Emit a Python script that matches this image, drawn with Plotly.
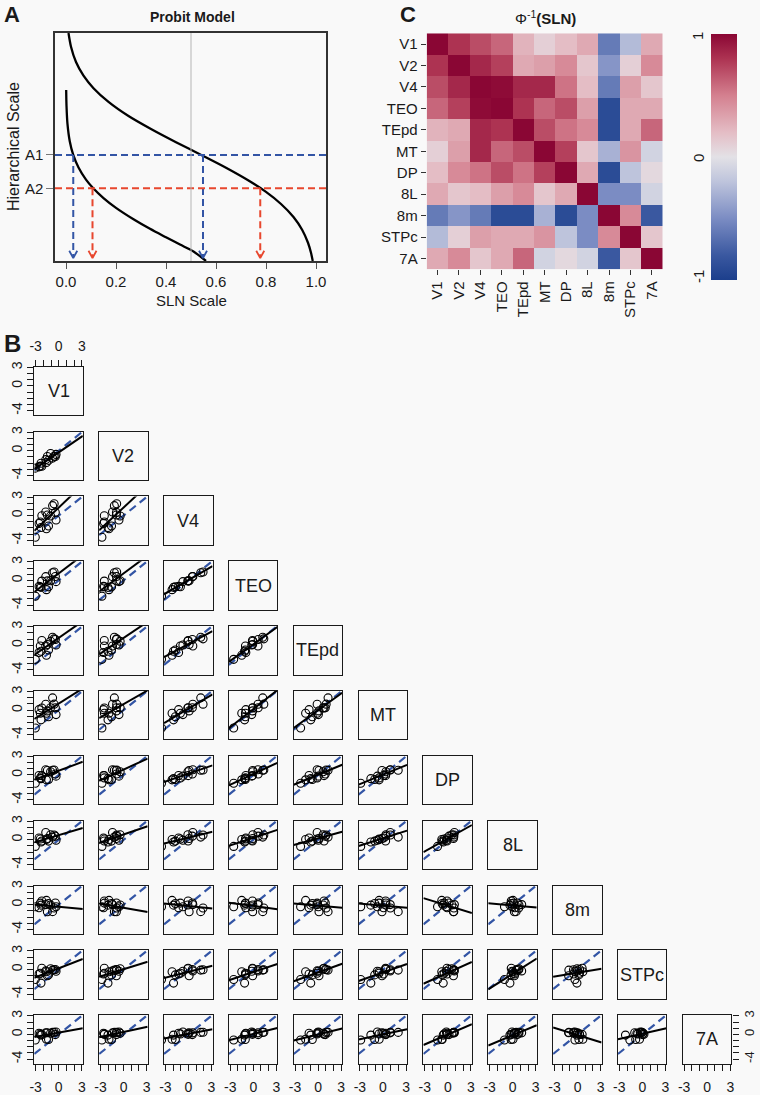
import numpy as np
import plotly.graph_objects as go

# ================= DATA =================
# ---- Panel A: probit model schematic ----
upper_sln = [0.010, 0.020, 0.040, 0.070, 0.110, 0.170, 0.250, 0.340, 0.440, 0.541,
             0.640, 0.730, 0.800, 0.860, 0.910, 0.945, 0.968, 0.980, 0.987]
upper_h = [10.0, 9.40, 8.73, 8.13, 7.58, 6.98, 6.36, 5.79, 5.21, 4.65,
           4.09, 3.53, 3.03, 2.50, 1.93, 1.36, 0.80, 0.36, 0.0]
lower_sln = [0.0007, 0.002, 0.006, 0.015, 0.029, 0.050, 0.080, 0.109, 0.150, 0.200,
             0.270, 0.336, 0.400, 0.456, 0.510, 0.560]
lower_h = [7.50, 6.81, 6.00, 5.25, 4.65, 4.10, 3.57, 3.19, 2.76, 2.33,
           1.83, 1.41, 1.04, 0.72, 0.42, 0.0]
level_names = ["A1", "A2"]
level_h = [4.65, 3.19]
A1_hits = [0.029, 0.548]
A2_hits = [0.106, 0.777]
sln_ticks = [0.0, 0.2, 0.4, 0.6, 0.8, 1.0]
sln_tick_text = ["0.0", "0.2", "0.4", "0.6", "0.8", "1.0"]
sln_midline = 0.5

# ---- Panel C: correlation of probit(SLN) between target areas ----
areas = ["V1", "V2", "V4", "TEO", "TEpd", "MT", "DP", "8L", "8m", "STPc", "7A"]
corr = [
    [1.00, 0.80, 0.70, 0.60, 0.25, 0.10, 0.20, 0.30, -0.60, -0.25, 0.30],
    [0.80, 1.00, 0.85, 0.75, 0.30, 0.35, 0.45, 0.15, -0.45, 0.10, 0.45],
    [0.70, 0.85, 1.00, 0.98, 0.85, 0.85, 0.55, 0.20, -0.60, 0.35, 0.15],
    [0.60, 0.75, 0.98, 1.00, 0.80, 0.60, 0.70, 0.35, -0.90, 0.30, 0.30],
    [0.25, 0.30, 0.85, 0.80, 1.00, 0.70, 0.55, 0.45, -0.90, 0.30, 0.60],
    [0.10, 0.35, 0.85, 0.60, 0.70, 1.00, 0.75, 0.15, -0.30, 0.40, -0.10],
    [0.20, 0.45, 0.55, 0.70, 0.55, 0.75, 1.00, 0.30, -0.90, -0.20, 0.05],
    [0.30, 0.15, 0.20, 0.35, 0.45, 0.15, 0.30, 1.00, -0.50, -0.50, -0.10],
    [-0.60, -0.45, -0.60, -0.90, -0.90, -0.30, -0.90, -0.50, 1.00, 0.45, -0.80],
    [-0.25, 0.10, 0.35, 0.30, 0.30, 0.40, -0.20, -0.50, 0.45, 1.00, 0.15],
    [0.30, 0.45, 0.15, 0.30, 0.60, -0.10, 0.05, -0.10, -0.80, 0.15, 1.00],
]
cbar_ticks = [1, 0, -1]

# ---- Panel B: probit(SLN) of each source area, per target area ----
sln_V1 = [-2.40, -3.05, -1.60, -2.31, -2.20, -2.57, -1.33, -1.48, -1.69, -0.44, -0.35, -0.80, -1.06, -0.60]
sln_V2 = [-2.50, -2.82, -1.90, -2.03, -2.51, -2.61, -1.57, -0.94, -1.44, -0.93, -0.60, -1.20, -0.45, -0.90]
sln_V4 = [-1.05, -3.50, -2.13, -1.94, -0.04, -1.28, -1.70, 0.09, 0.57, 0.51, -0.72, 1.60, -0.07, 1.90]
sln_TEO = [-1.02, -2.55, -1.50, -1.13, -0.11, -0.97, -1.04, -0.08, 0.61, 0.64, -0.20, 1.23, -0.06, 1.37]
sln_TEpd = [-0.13, -2.28, -1.63, -0.96, 0.77, -1.18, -0.76, 0.11, -0.13, 0.93, 0.03, 1.29, 0.65, 1.04]
sln_MT = [-0.51, -2.90, -0.50, -1.58, 0.34, 0.07, -1.08, -0.13, 0.94, 0.37, -0.73, 1.98, 0.38, 0.96]
sln_DP = [-0.48, -1.34, -0.79, -0.60, -0.11, -0.09, -0.74, 0.73, 0.85, 0.15, -0.19, 0.77, 0.53, 0.79]
sln_8L = [0.13, -1.07, 0.04, -0.36, -0.19, 0.28, -0.21, 0.22, 1.17, 0.59, -0.08, 0.44, 0.81, 0.78]
sln_8m = [0.25, -0.34, 0.69, -0.08, 0.60, -0.50, 0.18, -1.16, 0.01, 0.27, -0.35, -1.13, -0.05, -0.53]
sln_STPc = [-0.61, -1.63, -0.37, -2.20, 0.20, -0.72, -0.87, -1.00, -0.23, 0.00, -0.28, -0.10, 0.11, -0.04]
sln_7A = [0.07, -0.92, -0.79, -0.12, 0.00, 0.19, -0.83, 0.26, 0.24, -0.04, 0.37, 0.32, 0.17, 0.35]
area_values = [sln_V1, sln_V2, sln_V4, sln_TEO, sln_TEpd, sln_MT, sln_DP,
               sln_8L, sln_8m, sln_STPc, sln_7A]
pair_x_ticks = [-3, -2, -1, 0, 1, 2, 3]
pair_x_text = ["-3", "", "", "0", "", "", "3"]
pair_y_ticks = [-4, -3, -2, -1, 0, 1, 2, 3]
pair_y_text = ["-4", "", "", "", "0", "", "", "3"]

# ================= STYLE / GEOMETRY =================
W, H = 760, 1095
BG = "#f9f9f9"
FONT = "Liberation Sans, Arial, Helvetica, sans-serif"
BLUE = "#3355a5"
RED = "#e8472e"
INK = "#1a1a1a"


def dx(p0, p1):
    return [p0 / W, p1 / W]


def dy(p_top, p_bot):
    return [1 - p_bot / H, 1 - p_top / H]


fig = go.Figure()
layout = dict(
    width=W, height=H, margin=dict(l=0, r=0, t=0, b=0, pad=0, autoexpand=False),
    paper_bgcolor=BG, plot_bgcolor=BG, showlegend=False,
    font=dict(family=FONT, size=14, color=INK),
)
annotations = []
shapes = []


def ann(text, px, py, size=14, bold=False, angle=0, **kw):
    if bold:
        text = "<b>" + text + "</b>"
    annotations.append(dict(text=text, x=px / W, y=1 - py / H, xref="paper", yref="paper",
                            showarrow=False, font=dict(size=size, family=FONT, color=INK),
                            textangle=angle, xanchor="center", yanchor="middle", **kw))


# ================= PANEL A =================
xa_range = [-0.044, 1.04]
ya_range = [0, 10]
layout["xaxis"] = dict(domain=dx(55, 326), range=xa_range, showgrid=False, zeroline=False,
                       showline=True, mirror=True, linecolor="#333", linewidth=1.5,
                       tickvals=sln_ticks, ticktext=sln_tick_text, ticks="outside",
                       ticklen=6, tickcolor="#555", tickfont=dict(size=15), anchor="y",
                       tickangle=0)
layout["yaxis"] = dict(domain=dy(33, 261), range=ya_range, showgrid=False, zeroline=False,
                       showline=True, mirror=True, linecolor="#333", linewidth=1.5,
                       tickvals=level_h, ticktext=level_names, ticks="outside",
                       ticklen=7, tickcolor="#777", tickfont=dict(size=15), anchor="x")
shapes.append(dict(type="line", xref="x", yref="y domain", x0=sln_midline, x1=sln_midline,
                   y0=0, y1=1, line=dict(color="#b5b5b5", width=1)))

fig.add_trace(go.Scatter(x=upper_sln, y=upper_h, mode="lines", xaxis="x", yaxis="y",
                         line=dict(color="black", width=2.3, shape="spline", smoothing=0.8)))
fig.add_trace(go.Scatter(x=lower_sln, y=lower_h, mode="lines", xaxis="x", yaxis="y",
                         line=dict(color="black", width=2.3, shape="spline", smoothing=0.8)))

tip_h = 0.13
head_h = 0.32
head_w = 0.016
for lvl, hits, col in [(level_h[0], A1_hits, BLUE), (level_h[1], A2_hits, RED)]:
    fig.add_trace(go.Scatter(x=xa_range, y=[lvl, lvl], mode="lines", xaxis="x", yaxis="y",
                             line=dict(color=col, width=2, dash="7px,4px")))
    for hx in hits:
        fig.add_trace(go.Scatter(x=[hx, hx], y=[lvl, tip_h + 0.05], mode="lines", xaxis="x",
                                 yaxis="y", line=dict(color=col, width=2, dash="7px,4px")))
        fig.add_trace(go.Scatter(x=[hx - head_w, hx, hx + head_w],
                                 y=[tip_h + head_h, tip_h, tip_h + head_h], mode="lines",
                                 xaxis="x", yaxis="y", line=dict(color=col, width=1.8)))

ann("A", 12, 14, size=22, bold=True)
ann("Probit Model", 192, 17, size=14, bold=True)
ann("SLN Scale", 191, 300, size=15)
ann("Hierarchical Scale", 13, 147, size=16, angle=-90)

# ================= PANEL C =================
cscale = [[0.0, "#1c3f8c"], [0.1, "#3a58a0"], [0.25, "#7b8cc3"], [0.4, "#bec4dc"],
          [0.5, "#e3e1e6"], [0.6, "#e4bdc5"], [0.75, "#d4808f"], [0.9, "#ad3352"],
          [1.0, "#8a0634"]]
fig.add_trace(go.Heatmap(z=corr, x=areas, y=areas, xaxis="x2", yaxis="y2", zmin=-1, zmax=1,
                         colorscale=cscale, showscale=True,
                         colorbar=dict(x=711 / W, xanchor="left", y=1 - 34 / H, yanchor="top",
                                       len=246, lenmode="pixels", thickness=26,
                                       outlinewidth=0, showticklabels=False, ticks="",
                                       xpad=0, ypad=0)))
layout["xaxis2"] = dict(domain=dx(426.7, 662.7), type="category", showgrid=False,
                        zeroline=False, showline=False, ticks="outside", ticklen=5,
                        tickcolor="#333", tickangle=-90, tickfont=dict(size=15), anchor="y2")
layout["yaxis2"] = dict(domain=dy(33.3, 269.3), type="category", autorange="reversed",
                        showgrid=False, zeroline=False, showline=False, ticks="outside",
                        ticklen=5, tickcolor="#333", tickfont=dict(size=15), anchor="x2")
ann("C", 408, 14, size=22, bold=True)
ann("Φ<sup>-1</sup><b>(SLN)</b>", 545, 17, size=15)
cb_py = {1: 36, 0: 158, -1: 277}
for t in cbar_ticks:
    ann(str(t), 698, cb_py[t], size=15, angle=-90)

# ================= PANEL B =================
PX0, PY0, STEP, SIZE = 34.3, 366.7, 64.85, 48.5
xr = [-3.18, 3.13]
yr = [-4.75, 3.1]
ann("B", 12, 343, size=24, bold=True)
last = len(areas) - 1

n = 3
for i in range(len(areas)):
    for j in range(i + 1):
        x0 = PX0 + STEP * j
        y0 = PY0 + STEP * i
        xa = "xaxis%d" % n
        ya = "yaxis%d" % n
        xs = "x%d" % n
        ys = "y%d" % n
        xd = dict(domain=dx(x0, x0 + SIZE), range=xr, showgrid=False, zeroline=False,
                  showline=True, mirror=True, linecolor=INK, linewidth=1.4, anchor=ys,
                  tickvals=pair_x_ticks, ticktext=pair_x_text, tickfont=dict(size=14),
                  tickangle=0, ticks="", showticklabels=False, ticklen=6, tickwidth=1.2,
                  tickcolor=INK)
        yd = dict(domain=dy(y0, y0 + SIZE), range=yr, showgrid=False, zeroline=False,
                  showline=True, mirror=True, linecolor=INK, linewidth=1.4, anchor=xs,
                  tickvals=pair_y_ticks, ticktext=pair_y_text, tickfont=dict(size=14),
                  tickangle=-90, ticks="", showticklabels=False, ticklen=6, tickwidth=1.2,
                  tickcolor=INK)
        if i == 0 and j == 0:
            xd.update(side="top", ticks="outside", showticklabels=True, ticklabelstandoff=3)
        if i == last:
            xd.update(side="bottom", ticks="outside", showticklabels=True,
                      ticklabelstandoff=4)
        if j == 0:
            yd.update(side="left", ticks="outside", showticklabels=True)
        if i == last and j == last:
            yd.update(side="right", ticks="outside", showticklabels=True,
                      ticklabelstandoff=0, tickfont=dict(size=13))
        layout[xa] = xd
        layout[ya] = yd

        if i == j:
            ann(areas[i], x0 + SIZE / 2, y0 + SIZE / 2, size=18)
            fig.add_trace(go.Scatter(x=[None], y=[None], xaxis=xs, yaxis=ys, mode="markers"))
        else:
            xv = np.array(area_values[j], dtype=float)
            yv = np.array(area_values[i], dtype=float)
            ok = ~(np.isnan(xv) | np.isnan(yv))
            slope, icpt = np.polyfit(xv[ok], yv[ok], 1)
            fig.add_trace(go.Scatter(x=xr, y=xr, mode="lines", xaxis=xs, yaxis=ys,
                                     line=dict(color=BLUE, width=2.2, dash="8px,5px")))
            fig.add_trace(go.Scatter(x=xr, y=[icpt + slope * xr[0], icpt + slope * xr[1]],
                                     mode="lines", xaxis=xs, yaxis=ys,
                                     line=dict(color="black", width=2)))
            fig.add_trace(go.Scatter(x=xv[ok], y=yv[ok], mode="markers", xaxis=xs, yaxis=ys,
                                     marker=dict(symbol="circle-open", size=8, color="black",
                                                 line=dict(width=1.1))))
        n += 1

layout["annotations"] = annotations
layout["shapes"] = shapes
fig.update_layout(**layout)
fig.write_html("out.html",
               config={"displayModeBar": False},
               post_script="document.body.style.margin='0px';"
                           "document.body.style.overflow='hidden';")
